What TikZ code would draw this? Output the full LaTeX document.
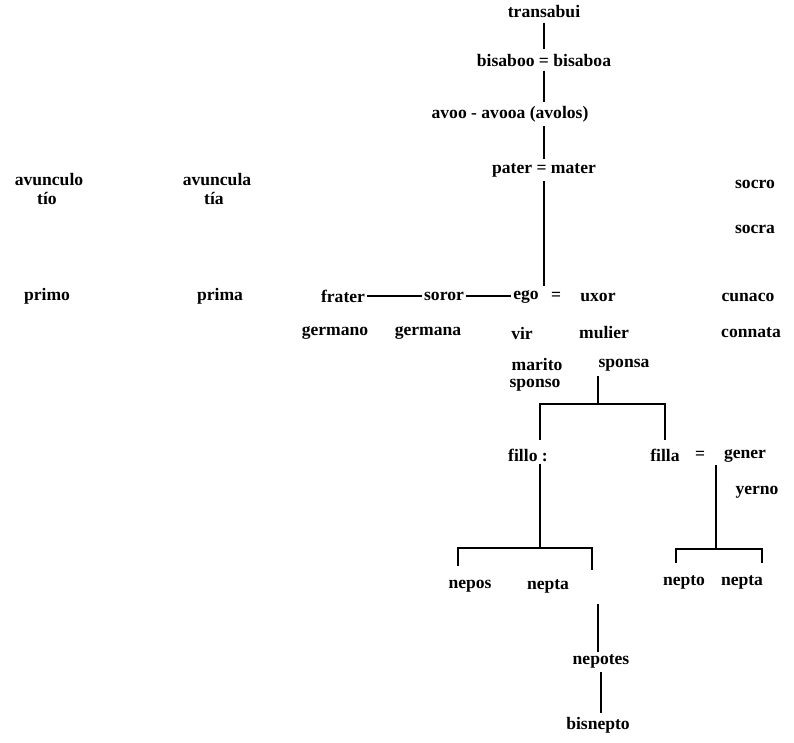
\documentclass[tikz,border=0pt]{standalone}
\usepackage{fontspec}
\setmainfont{Liberation Serif}
\usepackage{tikz}

\tikzset{
  word/.style={inner sep=1.5pt,font=\fontsize{12.5}{14}\selectfont\bfseries},
  kin/.style={line width=2pt},
  gap/.style={shorten >=1.5pt,shorten <=1.5pt},
  dashline/.style={line width=1.3pt}
}

\begin{document}
\begin{tikzpicture}[x=0.025cm,y=-0.025cm]
  \useasboundingbox (0,0) rectangle (794,742);
  % ancestors
  \node[word] (transabui) at (544,12) {transabui};
  \node[word] (bisaboo) at (544,60) {bisaboo = bisaboa};
  \node[word] (avoo) at (510,114) {avoo - avooa (avolos)};
  \node[word] (pater) at (544,170) {pater = mater};
  % uncles, cousins, in-laws
  \node[word] (avunculo) at (49,180) {avunculo};
  \node[word] (tio) at (47,198) {tío};
  \node[word] (avuncula) at (217,180) {avuncula};
  \node[word] (tia) at (214,198) {tía};
  \node[word] (primo) at (47,296) {primo};
  \node[word] (prima) at (220,296) {prima};
  \node[word] (socro) at (755,184) {socro};
  \node[word] (socra) at (755,229) {socra};
  % ego row
  \node[word] (frater) at (343,296) {frater};
  \node[word] (soror) at (444,296) {soror};
  \node[word] (ego) at (526,297) {ego};
  \node[word] (egoeq) at (556,296) {=};
  \node[word] (uxor) at (598,297) {uxor};
  \node[word] (cunaco) at (748,297) {cunaco};
  \node[word] (germano) at (335,333) {germano};
  \node[word] (germana) at (428,333) {germana};
  \node[word] (vir) at (522,333) {vir};
  \node[word] (mulier) at (604,333) {mulier};
  \node[word] (connata) at (751,333) {connata};
  \node[word] (marito) at (537,364) {marito};
  \node[word] (sponsa) at (624,365) {sponsa};
  \node[word] (sponso) at (535,385) {sponso};
  % children
  \node[word] (fillo) at (528,455) {fillo :};
  \node[word] (filla) at (665,455) {filla};
  \node[word] (fillaeq) at (700,455) {=};
  \node[word] (gener) at (745,456) {gener};
  \node[word] (yerno) at (757,492) {yerno};
  \node[word] (nepos) at (470,586) {nepos};
  \node[word] (nepta) at (548,586) {nepta};
  \node[word] (nepto) at (684,582) {nepto};
  \node[word] (neptb) at (742,582) {nepta};
  \node[word] (nepotes) at (601,661) {nepotes};
  \node[word] (bisnepto) at (598,725) {bisnepto};
  % bracket ends
  \coordinate (wed) at (598,376);
  \coordinate (kidbar) at (598,404);
  \coordinate (kidL) at (540,440);
  \coordinate (kidR) at (665,440);
  \coordinate (fillobar) at (540,548);
  \coordinate (nepsL) at (458,566);
  \coordinate (nepsR) at (592,570);
  \coordinate (fillabar) at (716,549);
  \coordinate (neptoL) at (676,563);
  \coordinate (neptoR) at (762,563);
  \coordinate (nepline) at (598,604);

  \draw[kin,gap] (transabui) -- (bisaboo);
  \draw[kin,gap] (bisaboo.south) -- (bisaboo.south |- avoo.north);
  \draw[kin,gap] (pater.north |- avoo.south) -- (pater.north);
  \draw[kin,gap] (pater.south) -- (pater.south |- ego.north);
  \draw[dashline] (frater.east) -- (frater.east -| soror.west);
  \draw[dashline] (soror.east) -- (soror.east -| ego.west);
  \draw[kin] (wed) -- (kidbar);
  \draw[kin] (kidL) |- (kidbar) -| (kidR);
  \draw[kin] (fillo.south -| fillobar) -- (fillobar);
  \draw[kin] (nepsL) |- (fillobar) -| (nepsR);
  \draw[kin] (gener.south -| fillabar) -- (fillabar);
  \draw[kin] (neptoL) |- (fillabar) -| (neptoR);
  \draw[kin] (nepline) -- (nepline |- nepotes.north);
  \draw[kin,gap] (nepotes.south) -- (nepotes.south |- bisnepto.north);
\end{tikzpicture}
\end{document}
